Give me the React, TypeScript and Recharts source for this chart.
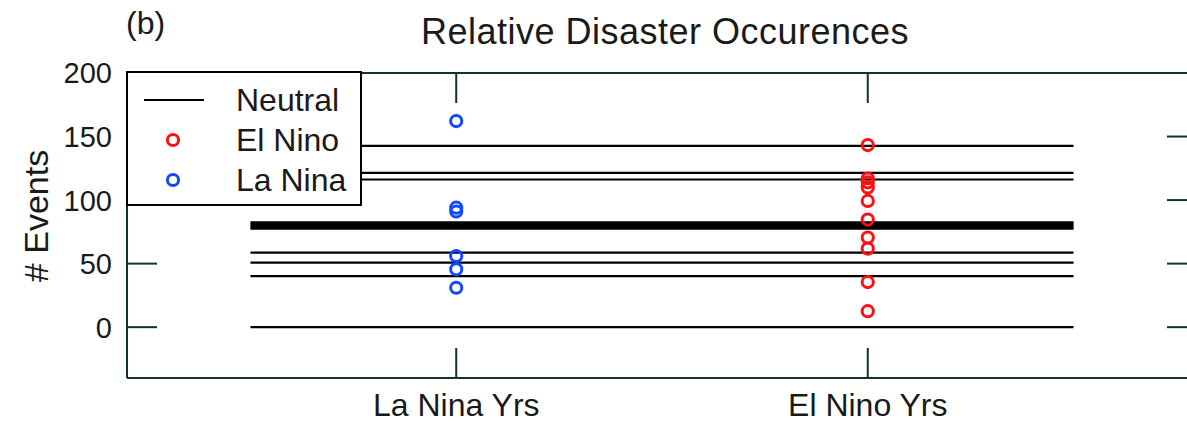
import { ComposedChart, Scatter, XAxis, YAxis } from 'recharts'

// category positions on the x axis
const categories = ['La Nina Yrs', 'El Nino Yrs']
const categoryPos = [1, 2]

// neutral years: drawn as horizontal lines across both categories
const neutralCounts = [142.7, 121.4, 116.2, 82.5, 81.2, 80, 78.8, 77.5, 58.6, 50.8, 40.2, 0]
const neutralSpan = [0.5, 2.5]

const elNinoCounts = [143.3, 117, 114, 110, 99.3, 84.7, 70.5, 61.8, 35.5, 12.6]
const laNinaCounts = [162.2, 94, 91, 56, 45.5, 31]

const yTicks = [0, 50, 100, 150, 200]

const legendItems = [
  { label: 'Neutral', kind: 'line', color: '#000000' },
  { label: 'El Nino', kind: 'circle', color: '#ff1010' },
  { label: 'La Nina', kind: 'circle', color: '#1048ff' },
]

const FONT = '"Liberation Sans", Arial, Helvetica, sans-serif'
const AXIS = '#123520'
const TEXT = '#1a1a1a'
const RED = '#ff1010'
const BLUE = '#1048ff'
const PLOT_H = 305 // plot box height, used for the inward ticks on the top edge

function LeftTick({ x, y, payload }: any) {
  return (
    <g>
      <line x1={x} x2={x + 30} y1={y} y2={y} stroke={AXIS} strokeWidth={2} />
      <text x={x - 15} y={y} dy="0.36em" textAnchor="end" fontSize={29} fill={TEXT} fontFamily={FONT}>
        {payload.value}
      </text>
    </g>
  )
}

function RightTick({ x, y }: any) {
  return <line x1={x - 30} x2={x} y1={y} y2={y} stroke={AXIS} strokeWidth={2} />
}

// bottom ticks also draw the matching inward tick on the top edge
function BottomTick({ x, y, payload }: any) {
  const label = categories[categoryPos.indexOf(payload.value)]
  return (
    <g>
      <line x1={x} x2={x} y1={y} y2={y - 30} stroke={AXIS} strokeWidth={2} />
      <line x1={x} x2={x} y1={y - PLOT_H} y2={y - PLOT_H + 30} stroke={AXIS} strokeWidth={2} />
      <text x={x} y={y + 38} textAnchor="middle" fontSize={32} fill={TEXT} fontFamily={FONT}>
        {label}
      </text>
    </g>
  )
}

const ring = (color: string) => (p: any) =>
  <circle cx={p.cx} cy={p.cy} r={5.6} fill="none" stroke={color} strokeWidth={3} />

export default function App() {
  const axisLine = { stroke: AXIS, strokeWidth: 2 }
  return (
    <div style={{ position: 'fixed', left: 0, top: 0, width: 1187, height: 422, overflow: 'hidden', background: '#fff' }}>
      <ComposedChart width={1230} height={422} margin={{ top: 72, right: 32, bottom: 0, left: 0 }}>
        <XAxis
          type="number"
          dataKey="x"
          domain={[0.2, 2.8]}
          ticks={categoryPos}
          interval={0}
          allowDataOverflow
          height={44}
          tickSize={0}
          tickMargin={0}
          tickLine={false}
          axisLine={axisLine}
          tick={<BottomTick />}
        />
        <XAxis
          xAxisId="top"
          orientation="top"
          type="number"
          domain={[0.2, 2.8]}
          allowDataOverflow
          height={1}
          tickLine={false}
          axisLine={axisLine}
          tick={false}
        />
        <YAxis
          type="number"
          dataKey="y"
          domain={[-40, 200]}
          ticks={yTicks}
          interval={0}
          allowDataOverflow
          width={127}
          tickSize={0}
          tickMargin={0}
          tickLine={false}
          axisLine={axisLine}
          tick={<LeftTick />}
        />
        <YAxis
          yAxisId="right"
          orientation="right"
          type="number"
          domain={[-40, 200]}
          ticks={yTicks}
          interval={0}
          allowDataOverflow
          width={1}
          tickSize={0}
          tickMargin={0}
          tickLine={false}
          axisLine={axisLine}
          tick={<RightTick />}
        />
        {neutralCounts.map((v, i) => (
          <Scatter
            key={'n' + i}
            data={neutralSpan.map((x) => ({ x, y: v }))}
            line={{ stroke: '#000', strokeWidth: 2.2 }}
            shape={() => <g />}
            legendType="none"
            isAnimationActive={false}
          />
        ))}
        <Scatter
          name="La Nina"
          data={laNinaCounts.map((y) => ({ x: categoryPos[0], y }))}
          shape={ring(BLUE)}
          isAnimationActive={false}
        />
        <Scatter
          name="El Nino"
          data={elNinoCounts.map((y) => ({ x: categoryPos[1], y }))}
          shape={ring(RED)}
          isAnimationActive={false}
        />
      </ComposedChart>

      <svg width={1187} height={422} style={{ position: 'absolute', left: 0, top: 0, pointerEvents: 'none' }}>
        <text x={126} y={34} fontSize={32} fill={TEXT} fontFamily={FONT}>(b)</text>
        <text x={665} y={44} textAnchor="middle" fontSize={36} letterSpacing={0.5} fill={TEXT} fontFamily={FONT}>
          Relative Disaster Occurences
        </text>
        <text transform="translate(48,216) rotate(-90)" textAnchor="middle" fontSize={34} fill={TEXT} fontFamily={FONT}>
          # Events
        </text>
        <g>
          <rect x={127} y={72} width={234} height={133} fill="#fff" stroke="#000" strokeWidth={2} />
          {legendItems.map((it, i) => {
            const cy = 100 + i * 40
            return (
              <g key={it.label}>
                {it.kind === 'line' ? (
                  <line x1={144} x2={204} y1={cy} y2={cy} stroke={it.color} strokeWidth={2} />
                ) : (
                  <circle cx={173} cy={cy} r={5.6} fill="none" stroke={it.color} strokeWidth={3} />
                )}
                <text x={236} y={cy + 11} fontSize={32} fill={TEXT} fontFamily={FONT}>
                  {it.label}
                </text>
              </g>
            )
          })}
        </g>
      </svg>
    </div>
  )
}
